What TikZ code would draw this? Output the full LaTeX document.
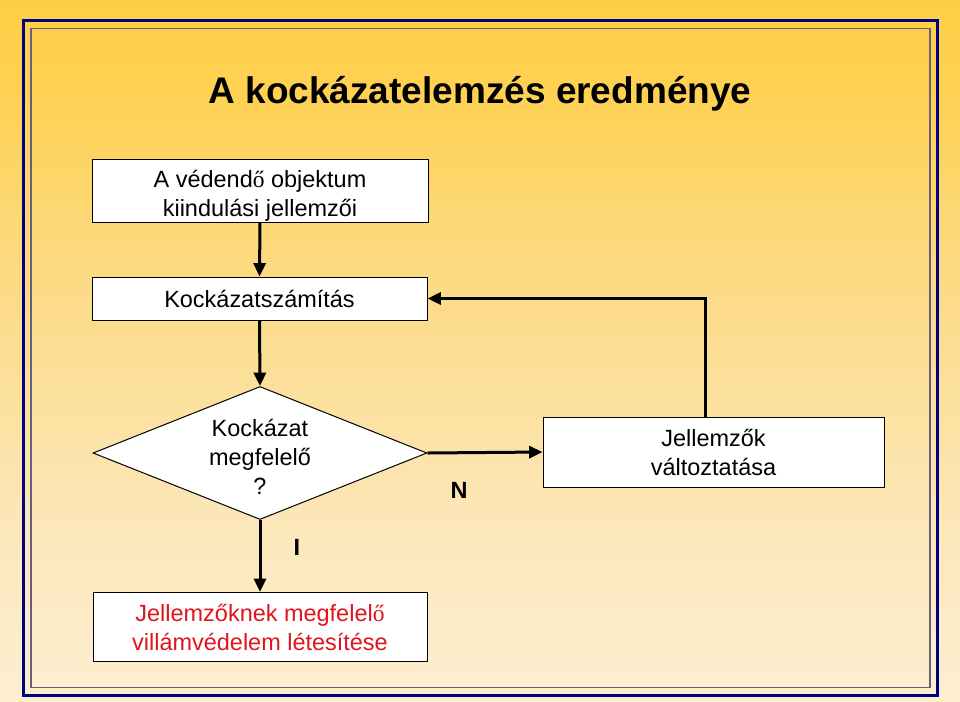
\documentclass[tikz,border=0pt]{standalone}
\usepackage{fontspec}
\setmainfont{Liberation Sans}
\newfontfamily\serifo{Liberation Serif}
\usepackage{tikz}
\usetikzlibrary{shapes.geometric}
\usetikzlibrary{arrows.meta}

\definecolor{bgtop}{RGB}{255,204,51}
\definecolor{bgmidA}{RGB}{254,209,82}
\definecolor{bgmidB}{RGB}{252,219,135}
\definecolor{bgmidC}{RGB}{252,232,190}
\definecolor{bgmidD}{RGB}{254,245,228}
\definecolor{bgbot}{RGB}{255,253,250}
\definecolor{framenavy}{RGB}{0,0,128}
\definecolor{framegray}{RGB}{105,95,125}
\definecolor{resred}{RGB}{225,20,30}

\pgfdeclareverticalshading{bgfade}{100bp}{color(0bp)=(bgbot); color(14.4bp)=(bgmidD); color(35.8bp)=(bgmidC); color(54.4bp)=(bgmidB); color(68.6bp)=(bgmidA); color(84.3bp)=(bgtop); color(100bp)=(bgtop)}

\newcommand{\flowfont}{\fontsize{17.6}{21.75}\selectfont}
\newcommand{\titlefont}{\fontsize{27.75}{33}\selectfont\bfseries}

\begin{document}
\begin{tikzpicture}[x=0.75pt,y=0.75pt,yscale=-1,xscale=1,
  box/.style={draw, fill=white, line width=0.75pt, align=center, inner sep=0pt, font=\flowfont},
  decision/.style={shape=diamond, aspect=2.5, draw, fill=white, line width=0.75pt, inner sep=0pt, align=center, font=\flowfont},
  flow/.style={line width=2.25pt, -{Triangle[length=10pt,width=9pt]}},
  lbl/.style={font=\flowfont\bfseries, inner sep=0.75pt}]
\useasboundingbox (0,0) rectangle (960,701);

%Shape: Background
\shade[shading=bgfade] (0,0) rectangle (960,701);
%Shape: Frame
\draw[framenavy, line width=2.25pt] (23.5,20.5) rectangle (937.5,695.5);
\draw[framegray, line width=1.1pt] (31,28.5) rectangle (930,687.5);

% Title Node
\node[font=\titlefont, anchor=base] (title) at (480,103) {A kockázatelemzés eredménye};

% Process Nodes
\node[box, minimum width=252pt, minimum height=47.25pt] (obj) at (260,190.5) {\rule{0pt}{20.2pt}A védend{\serifo ő} objektum\\kiindulási jellemzői};
\node[box, minimum width=251.25pt, minimum height=32.25pt] (calc) at (259.5,298.5) {Kockázatszámítás};
\node[decision, minimum width=250.5pt, minimum height=99.75pt] (chk) at (260,453) {\rule{0pt}{18pt}Kockázat\\megfelelő\\?};
\node[box, minimum width=255.75pt, minimum height=52.5pt] (chg) at (713.5,452) {Jellemzők\\változtatása};
\node[box, minimum width=250.5pt, minimum height=51.75pt, text=resred] (res) at (260,627) {Jellemzőknek megfelel{\serifo ő}\\villámvédelem létesítése};

% Connectors
\coordinate (back) at (705,299);
\draw[flow] (obj.south) -- (calc.north);
\draw[flow] (calc.south) -- (chk.north);
\draw[flow] (chk.east) -- (chg.west);
\draw[flow] (chg.north -| back) |- (calc.east);
\draw[flow] (chk.south) -- (res.north);

% Text Node
\node[lbl] (lblN) at (459,490) {N};
% Text Node
\node[lbl] (lblI) at (297,547) {I};

\end{tikzpicture}
\end{document}
